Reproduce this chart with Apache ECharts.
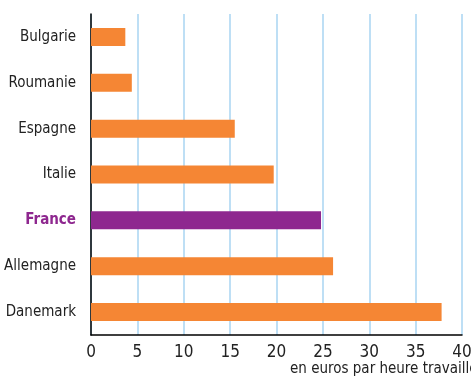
<!DOCTYPE html>
<html>
<head>
<meta charset="utf-8">
<script src="https://cdn.jsdelivr.net/npm/echarts@6/dist/echarts.min.js"></script>
<style>
  html, body { margin: 0; padding: 0; background: #fff; }
  #chart { width: 471px; height: 381px; }
</style>
</head>
<body>
<div id="chart"></div>
<script>
const countries = ['Bulgarie', 'Roumanie', 'Espagne', 'Italie', 'France', 'Allemagne', 'Danemark'];
const costs = [3.7, 4.4, 15.5, 19.7, 24.8, 26.1, 37.8];
const highlight = 'France';
const unitLabel = 'en euros par heure travaillée';

const orange = '#f58634';
const purple = '#8e278f';
const font = '"Liberation Sans Narrow", "DejaVu Sans Condensed", sans-serif';

var myChart = echarts.init(document.getElementById('chart'), null, { renderer: 'canvas' });

var option = {
  animation: false,
  grid: { left: 91, right: 9, top: 14, bottom: 46, outerBoundsMode: 'none', containLabel: false },
  xAxis: {
    type: 'value',
    min: 0,
    max: 40,
    interval: 5,
    axisLine: { show: true, lineStyle: { color: '#000', width: 1.5 } },
    axisTick: { show: false },
    axisLabel: { color: '#222', fontSize: 17, fontFamily: font, margin: 9 },
    splitLine: { show: true, lineStyle: { color: '#a9d5f2', width: 1.5 } }
  },
  yAxis: {
    type: 'category',
    inverse: true,
    data: countries.map(c => c === highlight
      ? { value: c, textStyle: { color: purple, fontWeight: 'bold' } }
      : c),
    axisLine: { show: true, lineStyle: { color: '#000', width: 1.5 } },
    axisTick: { show: false },
    axisLabel: { color: '#222', fontSize: 15, fontFamily: font, margin: 15 }
  },
  series: [{
    type: 'bar',
    barWidth: 18,
    data: costs.map((v, i) => ({
      value: v,
      itemStyle: { color: countries[i] === highlight ? purple : orange }
    }))
  }],
  graphic: [{
    type: 'text',
    left: 290,
    top: 362,
    style: { text: unitLabel, fill: '#222', font: '15px ' + font }
  }]
};

myChart.setOption(option);
window.addEventListener('resize', myChart.resize);
</script>
</body>
</html>
